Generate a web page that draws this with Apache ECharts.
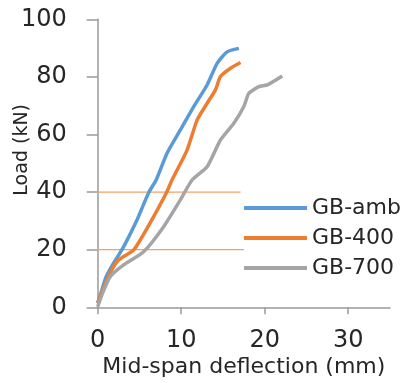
<!DOCTYPE html>
<html>
<head>
<meta charset="utf-8">
<script src="https://cdn.jsdelivr.net/npm/echarts@6/dist/echarts.min.js"></script>
<style>html,body{margin:0;padding:0;background:#fff}#c{width:404px;height:383px}</style>
</head>
<body>
<div id="c"></div>
<script>
// Data: [deflection mm, load kN]
var gbAmb = [[0,1.5],[0.5,6],[1.0,10.5],[1.9,15.3],[3.1,21],[4.7,30.3],[6.1,39.8],[7.0,44.2],[8.3,53.5],[9.9,61.6],[11.5,69.7],[13.1,77.2],[14.3,84.7],[15.5,88.7],[16.9,89.9]];
var gb400 = [[0,1.5],[0.9,8],[1.9,14.1],[2.5,16.4],[4.3,19.9],[5.1,23.4],[6.7,31.5],[8.2,39.6],[8.9,44.2],[10.7,54.6],[11.9,65.0],[13.1,70.8],[14.1,75.5],[14.7,80.1],[15.9,83],[17.1,85]];
var gb700 = [[0,0.2],[0.6,5],[1.5,10.6],[3.1,14.7],[5.5,19.3],[7.9,28],[9.9,37.3],[11.3,44.2],[13.1,48.8],[14.7,58.1],[16.3,63.9],[17.5,69.7],[18.1,74.3],[19.3,76.6],[20.3,77.2],[22.1,80.3]];
var seriesNames = ['GB-amb', 'GB-400', 'GB-700'];
var refLevels = [40, 20];
var refStartX = -1.3;
var refEndX = [17.1, 17.5];
var xTicks = {min: 0, max: 35, interval: 10};
var yTicks = {min: 0, max: 100, interval: 20};

var colors = ['#5B9BD5', '#ED7D31', '#A5A5A5'];
var fontFam = 'DejaVu Sans';
var axisColor = '#9A9A9A';
var textColor = '#262626';

var chart = echarts.init(document.getElementById('c'));
var lineSeries = [gbAmb, gb400, gb700].map(function (d, i) {
  return {
    name: seriesNames[i], type: 'line', data: d, symbol: 'none', smooth: 0.2,
    z: 3,
    lineStyle: {color: colors[i], width: 3.5}, itemStyle: {color: colors[i]}
  };
});
var refSeries = refLevels.map(function (lv, i) {
  return {
    name: 'ref' + lv, type: 'line', clip: false, symbol: 'none', silent: true, z: 2,
    data: [[refStartX, lv], [refEndX[i], lv]],
    lineStyle: {color: '#F4A064', width: 1.2}
  };
});

chart.setOption({
  animation: false,
  grid: {left: 97.7, right: 14, top: 19.3, bottom: 75.7, containLabel: false, outerBoundsMode: 'none'},
  legend: {
    data: seriesNames, orient: 'vertical', left: 239, top: 192,
    itemWidth: 63, itemHeight: 4, itemGap: 8, icon: 'rect',
    textStyle: {fontFamily: fontFam, fontSize: 22, color: textColor, padding: [0, 0, 0, 0]}
  },
  xAxis: {
    type: 'value', min: xTicks.min, max: xTicks.max, interval: xTicks.interval,
    name: 'Mid-span deflection (mm)', nameLocation: 'middle', nameGap: 49, nameMoveOverlap: false,
    nameTextStyle: {fontFamily: fontFam, fontSize: 22, color: textColor},
    axisLine: {show: true, lineStyle: {color: axisColor, width: 1.5}},
    axisTick: {show: true, inside: false, length: 7, lineStyle: {color: axisColor, width: 1.5}},
    axisLabel: {fontFamily: fontFam, fontSize: 24, color: textColor, margin: 21, showMaxLabel: false},
    splitLine: {show: false}
  },
  yAxis: {
    type: 'value', min: yTicks.min, max: yTicks.max, interval: yTicks.interval,
    name: 'Load (kN)', nameLocation: 'middle', nameGap: 66, nameMoveOverlap: false,
    nameTextStyle: {fontFamily: fontFam, fontSize: 19, color: textColor, padding: [0, 0, 0, 27]},
    axisLine: {show: true, lineStyle: {color: axisColor, width: 1.5}},
    axisTick: {show: true, inside: false, length: 11, lineStyle: {color: axisColor, width: 1.5}},
    axisLabel: {fontFamily: fontFam, fontSize: 24, color: textColor, margin: 31},
    splitLine: {show: false}
  },
  series: refSeries.concat(lineSeries)
});
</script>
</body>
</html>
